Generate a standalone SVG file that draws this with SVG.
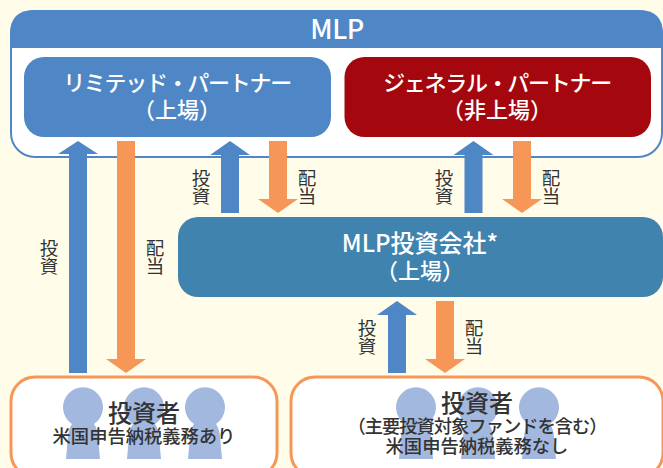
<svg xmlns="http://www.w3.org/2000/svg" width="663" height="468" viewBox="0 0 663 468">
<style>
text{font-family:"Noto Sans CJK JP","Noto Sans",sans-serif;text-anchor:middle}
.w{fill:#fff;font-size:22px;font-weight:500}
.k{letter-spacing:-1.300px}
.d{fill:#333;font-size:18.500px;writing-mode:vertical-rl;letter-spacing:.2px}
.b{fill:#333;font-weight:500}
.h{font-size:24px}
.s{font-size:18.300px}
.up{fill:#4e86c6}
.dn{fill:#f79757}
.p{fill:#a3b8de}
.inv{fill:#fff;stroke:#f79757;stroke-width:3}
</style>
<defs>
<path id="person" d="M-17 51L-15 28Q-14 20 -11 16A20 20 0 1 1 11 16Q14 20 15 28L17 51Z" class="p"/>
<polygon id="a-up" points="0,0 20,14 9,14 9,72 -9,72 -9,14 -20,14" class="up"/>
<polygon id="a-dn" points="-9,0 9,0 9,58 20,58 0,72 -20,58 -9,58" class="dn"/>
</defs>
<rect width="663" height="468" fill="#fffde9"/>
<g id="mlp">
<rect x="11" y="11" width="651" height="146" rx="24" fill="#fff" stroke="#4e86c6" stroke-width="2"/>
<path d="M10 48V34Q10 10 34 10H639Q663 10 663 34V48Z" fill="#4e86c6"/>
<text class="w" x="337" y="39" style="font-size:27px;letter-spacing:-.5px">MLP</text>
</g>
<g id="lp">
<rect x="24" y="57" width="307" height="80" rx="20" fill="#4e86c6"/>
<text class="w k" x="177" y="91">リミテッド・パートナー</text>
<text class="w" x="177" y="118">（上場）</text>
</g>
<g id="gp">
<rect x="344.500" y="57" width="306.500" height="80" rx="20" fill="#a4070e"/>
<text class="w k" x="497" y="91">ジェネラル・パートナー</text>
<text class="w" x="497" y="118">（非上場）</text>
</g>
<g id="company">
<rect x="178" y="217" width="485" height="80" rx="20" fill="#4083ae"/>
<text class="w" x="420" y="252" style="font-size:24px">MLP投資会社*</text>
<text class="w" x="420" y="279">（上場）</text>
</g>
<g id="investor-left">
<rect class="inv" x="11" y="377" width="266" height="100" rx="24"/>
<use href="#person" x="83" y="408"/><use href="#person" x="144" y="408"/><use href="#person" x="205" y="408"/>
<text class="b" x="144" y="422"><tspan class="h">投資者</tspan><tspan class="s" x="144" dy="21">米国申告納税義務あり</tspan></text>
</g>
<g id="investor-right">
<rect class="inv" x="291" y="377" width="372" height="100" rx="24"/>
<use href="#person" x="416" y="408"/><use href="#person" x="478" y="408"/><use href="#person" x="539" y="408"/>
<text class="b" x="477" y="412"><tspan class="h">投資者</tspan><tspan class="s" x="477" dy="21" style="letter-spacing:-1px">（主要投資対象ファンドを含む）</tspan><tspan class="s" x="477" dy="20">米国申告納税義務なし</tspan></text>
</g>
<g id="connectors">
<polygon class="up" points="78,141 98,154 87,154 87,373 69,373 69,154 58,154"/>
<polygon class="dn" points="117,141 135,141 135,359 146,359 126,373 106,359 117,359"/>
<use href="#a-up" x="230" y="141"/><use href="#a-dn" x="278" y="141"/>
<use href="#a-up" x="473.500" y="141"/><use href="#a-dn" x="522" y="141"/>
<use href="#a-up" x="397" y="301"/><use href="#a-dn" x="445" y="301"/>
</g>
<g id="labels">
<text class="d" x="49" y="257">投資</text>
<text class="d" x="155" y="257">配当</text>
<text class="d" x="201" y="187">投資</text>
<text class="d" x="307" y="187">配当</text>
<text class="d" x="444" y="187">投資</text>
<text class="d" x="551" y="187">配当</text>
<text class="d" x="367" y="337">投資</text>
<text class="d" x="474" y="337">配当</text>
</g>
</svg>
